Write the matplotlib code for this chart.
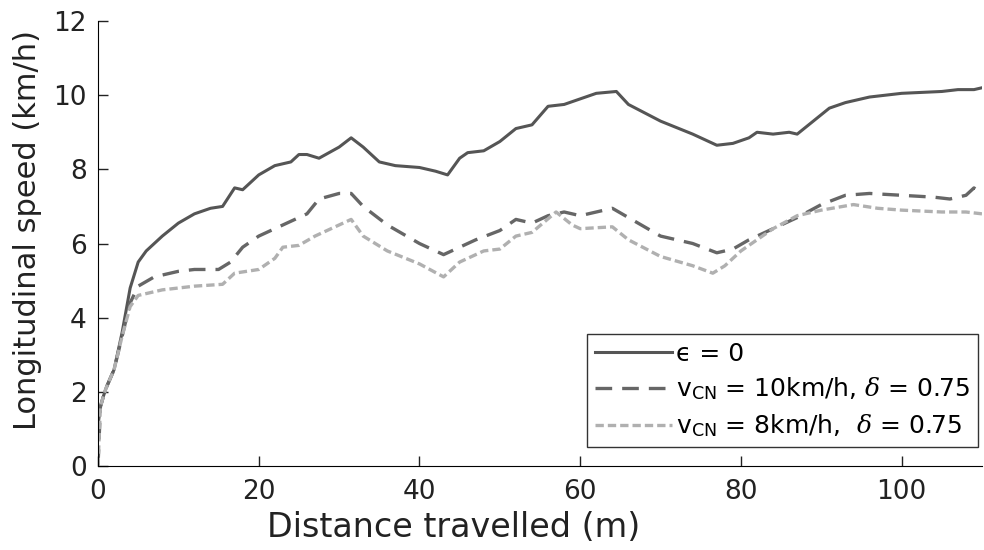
import matplotlib
matplotlib.use("Agg")
import matplotlib.pyplot as plt

# distance (m) and longitudinal speed (km/h)
dist_a = [0, 0.3, 0.7, 1, 2, 3, 4, 5, 6, 8, 10, 12, 14, 15.5, 17, 18, 20, 22, 24, 25, 26,
          27.5, 30, 31.5, 33, 35, 37, 40, 42, 43.5, 45, 46, 48, 50, 52, 54, 56, 58, 60,
          62, 64.5, 66, 70, 74, 77, 79, 81, 82, 84, 86, 87, 89, 91, 93, 96, 100, 105,
          107, 109, 110]
speed_a = [1.1, 1.6, 1.9, 2.1, 2.6, 3.6, 4.8, 5.5, 5.8, 6.2, 6.55, 6.8, 6.95, 7.0, 7.5,
           7.45, 7.85, 8.1, 8.2, 8.4, 8.4, 8.3, 8.6, 8.85, 8.6, 8.2, 8.1, 8.05, 7.95, 7.85,
           8.3, 8.45, 8.5, 8.75, 9.1, 9.2, 9.7, 9.75, 9.9, 10.05, 10.1, 9.75, 9.3, 8.95,
           8.65, 8.7, 8.85, 9.0, 8.95, 9.0, 8.95, 9.3, 9.65, 9.8, 9.95, 10.05, 10.1, 10.15,
           10.15, 10.2]

dist_b = [0, 0.3, 0.7, 1, 2, 3, 4, 5, 7, 10, 12, 15, 16.5, 18, 20, 22, 24, 26, 27.5, 30,
          31.5, 33, 36, 40, 43, 45, 47, 50, 52, 54, 56, 58, 60, 62, 64, 66, 70, 74, 77, 79,
          81, 84, 87, 90, 93, 96, 100, 104, 106, 108, 109, 110]
speed_b = [0.0, 1.6, 1.9, 2.1, 2.6, 3.5, 4.4, 4.85, 5.1, 5.25, 5.3, 5.3, 5.5, 5.9, 6.2,
           6.4, 6.6, 6.8, 7.2, 7.35, 7.35, 7.0, 6.5, 6.0, 5.7, 5.9, 6.1, 6.35, 6.65, 6.55,
           6.75, 6.85, 6.75, 6.85, 6.95, 6.7, 6.2, 6.0, 5.75, 5.85, 6.1, 6.4, 6.7, 7.05, 7.3,
           7.35, 7.3, 7.25, 7.2, 7.3, 7.5, 7.3]

dist_c = [0, 0.3, 0.7, 1, 2, 3, 4, 5, 8, 12, 15.5, 17, 20, 22, 23, 25, 27, 30, 31.5, 33,
          36, 40, 43, 45, 48, 50, 52, 54, 57, 59, 60, 64, 66, 70, 74, 76.5, 78, 80, 82, 84,
          87, 90, 94, 97, 100, 105, 108, 110]
speed_c = [0.0, 1.6, 1.9, 2.1, 2.6, 3.5, 4.3, 4.6, 4.75, 4.85, 4.9, 5.2, 5.3, 5.6, 5.9,
           5.95, 6.2, 6.5, 6.65, 6.2, 5.8, 5.45, 5.1, 5.5, 5.8, 5.85, 6.2, 6.3, 6.85, 6.5,
           6.4, 6.45, 6.1, 5.65, 5.4, 5.2, 5.4, 5.8, 6.1, 6.4, 6.75, 6.9, 7.05, 6.95, 6.9,
           6.85, 6.85, 6.8]

labels = ["\u03f5 = 0",
          r"v$_{\mathrm{CN}}$ = 10km/h, $\delta$ = 0.75",
          r"v$_{\mathrm{CN}}$ = 8km/h,  $\delta$ = 0.75"]

plt.rcParams["font.family"] = "DejaVu Sans"
plt.rcParams["mathtext.fontset"] = "custom"
plt.rcParams["mathtext.rm"] = "DejaVu Sans"
plt.rcParams["mathtext.it"] = "DejaVu Serif:italic"

fig = plt.figure(figsize=(9.84, 5.5), dpi=100)
ax = fig.add_axes([0.0996, 0.1527, 0.8984, 0.8091])

ax.plot(dist_a, speed_a, color="#555555", lw=2.2, label=labels[0])
ax.plot(dist_b, speed_b, color="#666666", lw=2.4, ls=(0, (5, 3)), label=labels[1])
ax.plot(dist_c, speed_c, color="#b0b0b0", lw=2.4, ls=(0, (2.5, 1.2)), label=labels[2])

ax.set_xlim(0, 110)
ax.set_ylim(0, 12)
ax.set_xticks([0, 20, 40, 60, 80, 100])
ax.set_yticks([0, 2, 4, 6, 8, 10, 12])
ax.tick_params(direction="in", labelsize=19, length=7, width=1, colors="#222222")
ax.tick_params(axis="y", pad=8)
ax.tick_params(axis="x", pad=9)
ax.spines["top"].set_visible(False)
ax.spines["right"].set_visible(False)
ax.set_xlabel("Distance travelled (m)", fontsize=24, color="#222222")
ax.set_ylabel("Longitudinal speed (km/h)", fontsize=22, color="#222222")
ax.xaxis.set_label_coords(0.402, -0.10)
ax.yaxis.set_label_coords(-0.063, 0.53)

leg = ax.legend(loc="lower right", bbox_to_anchor=(0.995, 0.043), fontsize=18,
                frameon=True, fancybox=False, handlelength=3.1, handletextpad=0.15,
                borderpad=0.3, labelspacing=0.4, borderaxespad=0)
leg.get_frame().set_edgecolor("black")
leg.get_frame().set_linewidth(1.0)

fig.savefig("out.png", dpi=100)
